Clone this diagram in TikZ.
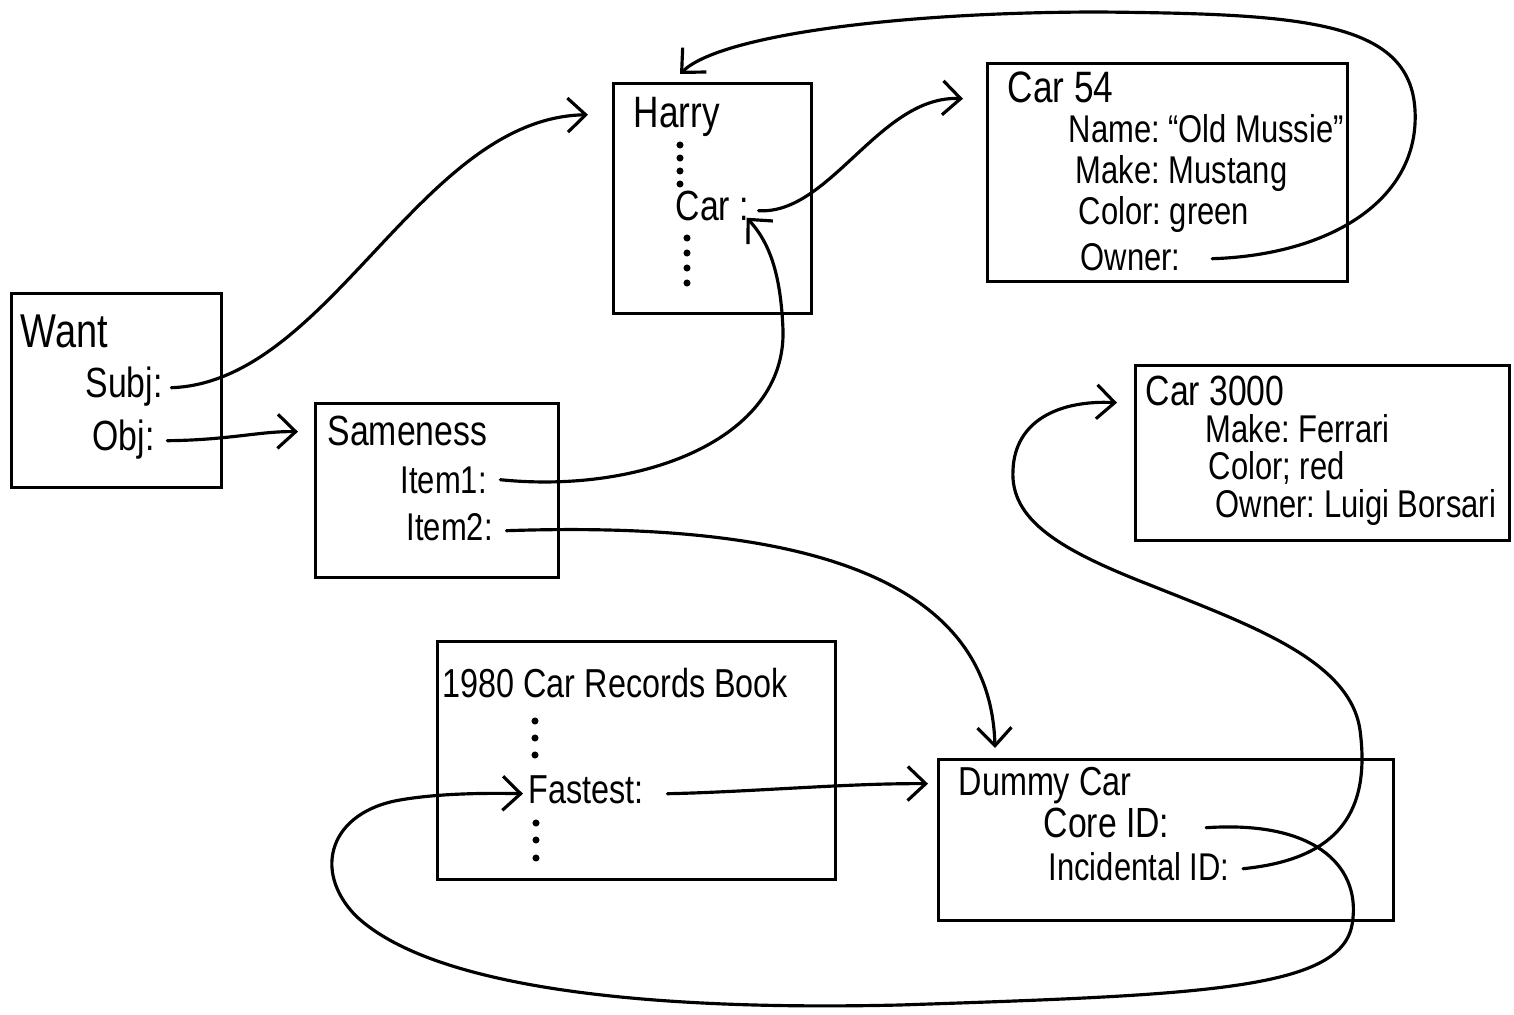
\documentclass[tikz,border=0pt]{standalone}
\usepackage{fontspec}
\setmainfont{Liberation Sans}[FakeStretch=0.8]
\usetikzlibrary{arrows.meta,calc}
\frenchspacing
\begin{document}
\begin{tikzpicture}[x=0.01cm,y=-0.01cm,
  boxframe/.style={draw, line width=0.9pt, inner sep=0pt, anchor=north west},
  ttl/.style={anchor=base west, inner sep=0pt, font=\fontsize{12}{14}\selectfont},
  fld/.style={anchor=base west, inner sep=0pt, font=\fontsize{11}{13}\selectfont},
  bigfld/.style={anchor=base west, inner sep=0pt, font=\fontsize{12}{14}\selectfont},
  wire/.style={line width=0.9pt, line cap=round},
  arrowlink/.style={wire, -{Straight Barb[length=1.8mm,width=3.4mm,line width=0.9pt]}}]

\fill[white] (0,0) rectangle (1514,1015);
\useasboundingbox (0,0) rectangle (1514,1015);

% frames
\node[boxframe, minimum width=2.10cm, minimum height=1.94cm] (want) at (10,292) {};
\node[boxframe, minimum width=1.98cm, minimum height=2.30cm] (harry) at (612,82) {};
\node[boxframe, minimum width=3.60cm, minimum height=2.18cm] (car54) at (986,62) {};
\node[boxframe, minimum width=3.74cm, minimum height=1.75cm] (car3000) at (1134,364) {};
\node[boxframe, minimum width=2.43cm, minimum height=1.74cm] (same) at (314,402) {};
\node[boxframe, minimum width=3.98cm, minimum height=2.38cm] (book) at (436,640) {};
\node[boxframe, minimum width=4.55cm, minimum height=1.61cm] (dummy) at (937,758) {};

% Want
\node[ttl, font=\fontsize{13.5}{16}\selectfont] (wantttl) at (20,347) {Want};
\node[bigfld] (subj) at (85,397) {Subj:};
\node[bigfld] (obj) at (92,450) {Obj:};

% Harry
\node[ttl, font=\fontsize{12.5}{15}\selectfont] (harryttl) at (633,127) {Harry};
\node[bigfld] (harrycar) at (675,220) {Car :};
\foreach \y in {145,158,171,184} \fill (680,\y) circle (1pt);
\foreach \y in {238,253,268,283} \fill (687,\y) circle (1pt);

% Car 54
\node[ttl, font=\fontsize{12.5}{15}\selectfont] (c54ttl) at (1007,103) {Car 54};
\node[fld] (c54name) at (1068,143) {Name: “Old Mussie”};
\node[fld] (c54make) at (1075,183) {Make: Mustang};
\node[fld] (c54color) at (1078,225) {Color: green};
\node[fld] (c54owner) at (1080,270) {Owner:};

% Car 3000
\node[ttl] (c3ttl) at (1145,405) {Car 3000};
\node[fld] (c3make) at (1205,442) {Make: Ferrari};
\node[fld] (c3color) at (1208,479) {Color; red};
\node[fld] (c3owner) at (1215,517) {Owner: Luigi Borsari};

% Sameness
\node[ttl] (samettl) at (327,445) {Sameness};
\node[fld] (item1) at (400,493) {Item1:};
\node[fld] (item2) at (406,540) {Item2:};

% 1980 Car Records Book
\node[ttl, font=\fontsize{11.5}{14}\selectfont] (bookttl) at (442,697) {1980 Car Records Book};
\node[fld, font=\fontsize{11.5}{14}\selectfont] (fastest) at (528,803) {Fastest:};
\foreach \y in {721,738,755} \fill (535,\y) circle (1pt);
\foreach \y in {823,840,858} \fill (536,\y) circle (1pt);

% Dummy Car
\node[ttl, font=\fontsize{11.5}{14}\selectfont] (dummyttl) at (958,795) {Dummy Car};
\node[bigfld] (coreid) at (1043,837) {Core ID:};
\node[fld] (incid) at (1048,880) {Incidental ID:};

% connectors
\draw[arrowlink] ($(subj.mid east)+(8,0)$) .. controls (330,382) and (420,118) .. ($(harryttl.mid west)+(-45,-3)$);
\draw[arrowlink] ($(obj.mid east)+(12,0)$) .. controls (230,440) and (260,431) .. ($(samettl.mid west)+(-29,-4)$);
\draw[arrowlink] ($(item1.mid east)+(13,-4)$) .. controls (640,494) and (786,440) .. (783,330)
  .. controls (781,280) and (772,245) .. ($(harrycar.mid east)+(-3,7)$);
\draw[arrowlink] ($(harrycar.mid east)+(9,0)$) .. controls (830,215) and (880,95) .. ($(c54ttl.mid west)+(-44,5)$);
\draw[arrowlink] ($(c54owner.mid east)+(31,-2)$) .. controls (1330,255) and (1420,200) .. (1415,110)
  .. controls (1410,20) and (1300,14) .. (1100,12)
  .. controls (900,12) and (720,35) .. ($(harry.north west)+(68,-8)$);
\draw[arrowlink] ($(item2.mid east)+(13,0)$) .. controls (760,522) and (990,560) .. ($(dummy.north west)+(58,-10)$);
\draw[arrowlink] ($(fastest.mid east)+(23,0)$) .. controls (750,792) and (850,783) .. ($(dummyttl.mid west)+(-30,-2)$);
\draw[arrowlink] ($(coreid.mid east)+(36,0)$) .. controls (1320,820) and (1362,870) .. (1352,925)
  .. controls (1340,990) and (1200,995) .. (900,1005)
  .. controls (600,1012) and (420,978) .. (355,915)
  .. controls (312,870) and (330,812) .. (400,800)
  .. controls (440,793) and (490,793) .. ($(fastest.mid west)+(-5,0)$);
\draw[arrowlink] ($(incid.mid east)+(13,-2)$) .. controls (1330,860) and (1372,820) .. (1360,730)
  .. controls (1350,660) and (1250,625) .. (1150,585)
  .. controls (1060,550) and (1010,520) .. (1013,470)
  .. controls (1015,420) and (1060,400) .. ($(c3ttl.mid west)+(-28,7)$);
\end{tikzpicture}
\end{document}
